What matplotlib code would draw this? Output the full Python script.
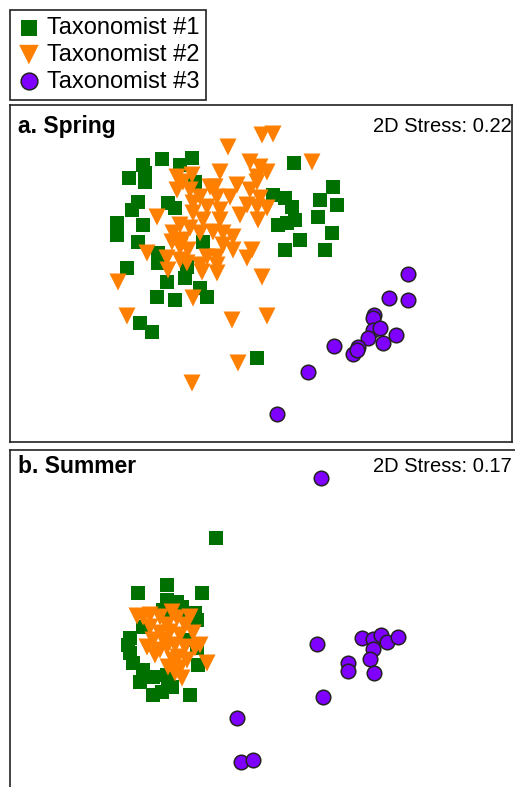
import matplotlib
matplotlib.use("Agg")
import matplotlib.pyplot as plt
import numpy as np

plt.rcParams['font.family'] = ['Liberation Sans', 'DejaVu Sans']

# NMDS ordination scores (arbitrary units, y grows downward)
spring_t1 = [(162, 159), (192, 158), (143, 165), (180, 165), (145, 173), (129, 178), (145, 182),
             (195, 182), (294, 163), (273, 195), (285, 198), (292, 207), (278, 225), (295, 220),
             (287, 223), (333, 187), (320, 200), (337, 205), (318, 217), (332, 233), (300, 240),
             (285, 250), (325, 250), (138, 202), (132, 210), (168, 203), (175, 208), (117, 223),
             (143, 225), (117, 235), (138, 242), (203, 242), (158, 253), (158, 263), (187, 267),
             (185, 278), (127, 268), (167, 282), (200, 288), (207, 297), (157, 297), (175, 300),
             (140, 323), (152, 332), (257, 358)]
spring_t2 = [(262, 135), (273, 134), (228, 147), (312, 162), (250, 162), (260, 167), (267, 172),
             (220, 172), (257, 177), (177, 177), (183, 182), (192, 175), (237, 185), (210, 187),
             (215, 187), (257, 182), (250, 190), (177, 190), (190, 190), (200, 197), (217, 197),
             (230, 197), (260, 198), (193, 203), (207, 207), (247, 205), (267, 208), (257, 207),
             (220, 210), (193, 213), (240, 215), (157, 217), (203, 220), (220, 220), (258, 220),
             (180, 225), (190, 228), (173, 233), (200, 233), (213, 232), (223, 233), (233, 237),
             (183, 240), (172, 242), (180, 247), (223, 245), (188, 250), (233, 250), (252, 250),
             (147, 253), (167, 258), (180, 260), (207, 257), (217, 257), (247, 258), (187, 263),
             (200, 265), (217, 265), (168, 270), (202, 272), (217, 273), (262, 277), (118, 282),
             (193, 298), (127, 316), (232, 320), (267, 316), (238, 363), (192, 383)]
spring_t3 = [(408, 274), (389, 298), (408, 300), (374, 315), (373, 318), (373, 330), (380, 328),
             (368, 338), (383, 343), (396, 335), (358, 347), (353, 354), (357, 350), (334, 346),
             (308, 372), (277, 414)]

summer_t1 = [(216, 538), (138, 593), (167, 585), (202, 593), (177, 602), (167, 600), (182, 607),
             (163, 610), (195, 613), (187, 613), (143, 627), (130, 638), (130, 653), (133, 663),
             (143, 670), (153, 677), (167, 675), (172, 687), (153, 695), (162, 692), (190, 695),
             (198, 665), (197, 648), (188, 640), (197, 620), (128, 645), (140, 682), (168, 683)]
summer_t2 = [(143, 617), (160, 617), (177, 618), (190, 617), (193, 633), (195, 648), (207, 663),
             (175, 673), (182, 678), (168, 667), (153, 640), (147, 647), (167, 647), (160, 633),
             (178, 657), (185, 647), (150, 627), (167, 625), (180, 635), (173, 660), (187, 660),
             (137, 616), (200, 645), (155, 655), (165, 640), (175, 645), (185, 625), (160, 650),
             (170, 632), (180, 668), (150, 615), (172, 612)]
summer_t3 = [(321, 478), (317, 644), (362, 638), (373, 639), (381, 635), (387, 642), (398, 637),
             (373, 649), (370, 659), (348, 663), (348, 671), (374, 673), (323, 697), (237, 718),
             (241, 762), (253, 760)]

labels = ["Taxonomist #1", "Taxonomist #2", "Taxonomist #3"]
titles = ["a. Spring", "b. Summer"]
stress = [0.22, 0.17]

W, H = 515, 787
fig = plt.figure(figsize=(W / 100, H / 100), dpi=100)


def px_axes(x0, y0, x1, y1):
    # axes placed by pixel box of the reference
    return fig.add_axes([x0 / W, 1 - y1 / H, (x1 - x0) / W, (y1 - y0) / H])


ax_a = px_axes(10, 105, 512, 442)
ax_b = px_axes(10, 450, 522, 792)
limits = [((10, 512), (442, 105)), ((10, 522), (792, 450))]

styles = [dict(marker='s', s=100, color='#007000', edgecolors='none'),
          dict(marker='v', s=150, color='#ff8000', edgecolors='none'),
          dict(marker='o', s=110, color='#8000ff', edgecolors='#222222', linewidths=1.1)]

handles = []
for ax, groups, lim in [(ax_a, [spring_t1, spring_t2, spring_t3], limits[0]),
                        (ax_b, [summer_t1, summer_t2, summer_t3], limits[1])]:
    hs = []
    for pts, st, lbl in zip(groups, styles, labels):
        pts = np.array(pts)
        hs.append(ax.scatter(pts[:, 0], pts[:, 1], label=lbl, zorder=3, **st))
    handles = hs
    ax.set_xlim(*lim[0])
    ax.set_ylim(*lim[1])
    ax.set_xticks([])
    ax.set_yticks([])
    for sp in ax.spines.values():
        sp.set_linewidth(1.2)
        sp.set_color('#222222')

for ty, title, st in zip([127, 467], titles, stress):
    fig.text(18 / W, 1 - ty / H, title, fontsize=16.5, fontweight='bold', va='center', ha='left')
    fig.text(512 / W, 1 - ty / H, "2D Stress: %.2f" % st, fontsize=14.5, va='center', ha='right')

leg = fig.legend(handles=handles, labels=labels, loc='upper left',
                 bbox_to_anchor=(10 / W, 1 - 10 / H), borderaxespad=0, fontsize=17,
                 fancybox=False, edgecolor='#222222', framealpha=1, handletextpad=0.25,
                 labelspacing=0.2, borderpad=0.3, handlelength=1.0, markerscale=1.15)
leg.get_frame().set_linewidth(1.2)

fig.savefig("out.png", dpi=100)
